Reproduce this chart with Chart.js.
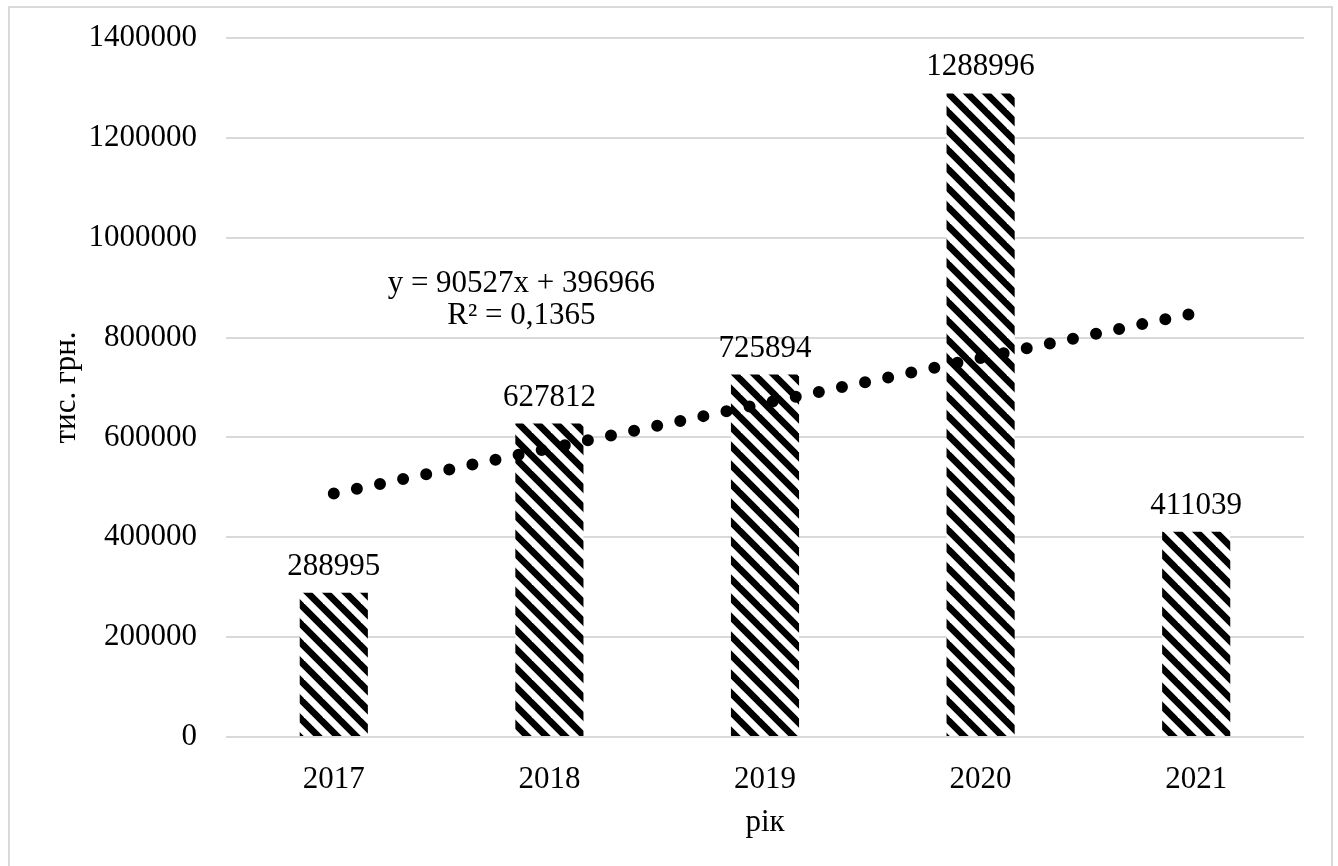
<!DOCTYPE html>
<html>
<head>
<meta charset="utf-8">
<script src="https://cdn.jsdelivr.net/npm/chart.js@4/dist/chart.umd.min.js"></script>
<style>
  body { margin: 0; background: #fff; }
  #wrap { width: 1338px; height: 866px; }
</style>
</head>
<body>
<div id="wrap"><canvas id="myChart" width="1338" height="866"></canvas></div>
<script>
// chart data
var years = ['2017', '2018', '2019', '2020', '2021'];
var amounts = [288995, 627812, 725894, 1288996, 411039];
// linear trend y = 90527x + 396966 read at x = 1..5
var trendValues = [487493, 578020, 668547, 759074, 849601];
var trendLines = ['y = 90527x + 396966', 'R\u00b2 = 0,1365'];
var yTicks = [0, 200000, 400000, 600000, 800000, 1000000, 1200000, 1400000];
var xTitle = 'рік';
var yTitle = 'тис. грн.';

var FONT = "'Liberation Serif', 'Times New Roman', serif";
var FSIZE = 31;

// black / white diagonal stripes like the Excel pattern fill
function stripePattern() {
  var s = 19;
  var c = document.createElement('canvas');
  c.width = s;
  c.height = s;
  var g = c.getContext('2d');
  g.fillStyle = '#fff';
  g.fillRect(0, 0, s, s);
  g.strokeStyle = '#000';
  g.lineWidth = 6.7;
  // lines run past the tile so the joins are seamless
  for (var k = -2; k <= 2; k++) {
    g.beginPath();
    g.moveTo(k * s - s, -s);
    g.lineTo(k * s + 2 * s, 2 * s);
    g.stroke();
  }
  return document.getElementById('myChart').getContext('2d').createPattern(c, 'repeat');
}

var frame = {
  id: 'frame',
  beforeDraw: function(chart) {
    var ctx = chart.ctx;
    ctx.save();
    ctx.fillStyle = '#fff';
    ctx.fillRect(0, 0, chart.width, chart.height);
    ctx.strokeStyle = '#d9d9d9';
    ctx.lineWidth = 2;
    ctx.strokeRect(9, 7, 1323, 900);
    ctx.restore();
  }
};

var labels = {
  id: 'labels',
  afterDatasetsDraw: function(chart) {
    var ctx = chart.ctx;
    var meta = chart.getDatasetMeta(0);
    ctx.save();
    ctx.font = FSIZE + 'px ' + FONT;
    ctx.fillStyle = '#000';
    ctx.textAlign = 'center';
    ctx.textBaseline = 'alphabetic';
    meta.data.forEach(function(bar, i) {
      ctx.fillText(String(amounts[i]), bar.x, bar.y - 18);
    });
    // trend equation, placed between the first two categories
    var xs = chart.scales.x, ys = chart.scales.y;
    var x0 = xs.getPixelForValue(0), x1 = xs.getPixelForValue(1);
    var tx = x0 + (x1 - x0) * 0.87;
    var ty = ys.getPixelForValue(892000);
    ctx.fillText(trendLines[0], tx, ty);
    ctx.fillText(trendLines[1], tx, ty + 32);
    ctx.restore();
  }
};

var ctx = document.getElementById('myChart').getContext('2d');
var myChart = new Chart(ctx, {
  type: 'bar',
  data: {
    labels: years,
    datasets: [{
      type: 'bar',
      data: amounts,
      backgroundColor: stripePattern(),
      borderWidth: 0,
      categoryPercentage: 1,
      barPercentage: 0.316,
      order: 1
    }, {
      type: 'line',
      data: trendValues,
      borderColor: '#000',
      borderWidth: 12,
      borderDash: [0, 23.6],
      borderCapStyle: 'round',
      pointRadius: 0,
      fill: false,
      tension: 0,
      order: 0
    }]
  },
  options: {
    responsive: false,
    animation: false,
    layout: { padding: { top: 38, right: 34, left: 0, bottom: 0 } },
    plugins: {
      legend: { display: false },
      tooltip: { enabled: false }
    },
    scales: {
      x: {
        grid: { display: false },
        border: { display: false },
        ticks: { color: '#000', font: { family: FONT, size: FSIZE }, padding: 16 },
        title: {
          display: true, text: xTitle, color: '#000',
          font: { family: FONT, size: FSIZE },
          padding: { top: 0, bottom: 25 }
        },
        afterFit: function(scale) { scale.height = 129; }
      },
      y: {
        min: 0,
        max: 1400000,
        afterBuildTicks: function(scale) {
          scale.ticks = yTicks.map(function(v) { return { value: v }; });
        },
        grid: { color: '#d9d9d9', lineWidth: 2, drawTicks: false },
        border: { display: false },
        ticks: {
          color: '#000', font: { family: FONT, size: FSIZE }, padding: 29,
          callback: function(v) { return String(v); }
        },
        title: {
          display: true, text: yTitle, color: '#000',
          font: { family: FONT, size: FSIZE },
          padding: { top: 48, bottom: 0 }
        },
        afterFit: function(scale) {
          scale.width = 226;
          scale.paddingTop = 18;
          scale.paddingBottom = 18;
        }
      }
    }
  },
  plugins: [frame, labels]
});
</script>
</body>
</html>
